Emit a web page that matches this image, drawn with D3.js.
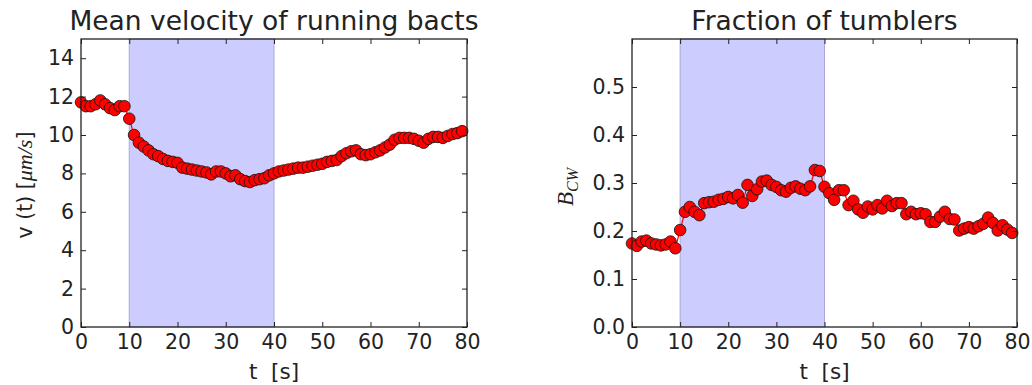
<!DOCTYPE html>
<html>
<head>
<meta charset="utf-8">
<script src="https://cdn.jsdelivr.net/npm/d3@7"></script>
<style>
  body { margin: 0; background: #fff; }
  text { font-family: "DejaVu Sans", sans-serif; fill: #222; }
  .axis text { font-size: 20.5px; }
  .axis line { stroke: #222; }
  .frame { fill: none; stroke: #222; stroke-width: 1.3; }
</style>
</head>
<body>
<div id="chart"></div>
<script>
// time axis, one sample per second
var times = d3.range(0, 80);

var velocity = [11.7, 11.5, 11.5, 11.6, 11.8, 11.6, 11.4, 11.3, 11.5, 11.5,
  10.85, 10.0, 9.6, 9.4, 9.2, 9.0, 8.9, 8.75, 8.65, 8.6,
  8.55, 8.3, 8.25, 8.2, 8.15, 8.1, 8.05, 7.95, 8.1, 8.1,
  8.0, 7.85, 7.9, 7.7, 7.6, 7.55, 7.65, 7.7, 7.75, 7.9,
  8.0, 8.1, 8.15, 8.2, 8.25, 8.3, 8.3, 8.35, 8.4, 8.45,
  8.5, 8.6, 8.65, 8.7, 8.9, 9.05, 9.15, 9.2, 9.0, 8.95,
  9.0, 9.1, 9.2, 9.35, 9.5, 9.75, 9.85, 9.85, 9.85, 9.8,
  9.7, 9.6, 9.8, 9.9, 9.9, 9.85, 9.95, 10.05, 10.1, 10.2];

var tumblers = [0.174, 0.169, 0.178, 0.18, 0.174, 0.172, 0.17, 0.172, 0.178, 0.164,
  0.202, 0.24, 0.25, 0.24, 0.233, 0.258, 0.26, 0.261, 0.265, 0.267,
  0.271, 0.268, 0.275, 0.259, 0.296, 0.273, 0.287, 0.303, 0.305, 0.296,
  0.292, 0.285, 0.282, 0.29, 0.293, 0.288, 0.285, 0.293, 0.327, 0.325,
  0.292, 0.279, 0.265, 0.285, 0.285, 0.254, 0.263, 0.245, 0.238, 0.251,
  0.245, 0.254, 0.247, 0.263, 0.252, 0.258, 0.258, 0.235, 0.24, 0.235,
  0.237, 0.235, 0.219, 0.219, 0.23, 0.24, 0.225, 0.224, 0.201, 0.205,
  0.208, 0.205, 0.21, 0.215, 0.228, 0.217, 0.201, 0.212, 0.203, 0.196];

var stimulus = [10, 40];
var xTicks = [0, 10, 20, 30, 40, 50, 60, 70, 80];
var vTicks = [0, 2, 4, 6, 8, 10, 12, 14];
var bTicks = [0, 0.1, 0.2, 0.3, 0.4, 0.5];

var W = 1032, H = 385;
var svg = d3.select("#chart").append("svg").attr("width", W).attr("height", H);

function panel(opts) {
  var x = d3.scaleLinear().domain([0, 80]).range([opts.left, opts.right]),
      y = d3.scaleLinear().domain(opts.ydomain).range([opts.bottom, opts.top]);

  var g = svg.append("g");

  // shaded stimulus window
  g.append("rect")
      .attr("x", x(stimulus[0]))
      .attr("y", opts.top)
      .attr("width", x(stimulus[1]) - x(stimulus[0]))
      .attr("height", opts.bottom - opts.top)
      .attr("fill", "#ccccff")
      .attr("stroke", "#a9a9d8")
      .attr("stroke-width", 1);

  var data = times.map(function(t, i) { return {t: t, v: opts.values[i]}; });

  g.append("path")
      .datum(data)
      .attr("fill", "none")
      .attr("stroke", "red")
      .attr("stroke-width", 1.2)
      .attr("d", d3.line().x(function(d) { return x(d.t); }).y(function(d) { return y(d.v); }));

  g.selectAll("circle")
      .data(data)
    .enter().append("circle")
      .attr("cx", function(d) { return x(d.t); })
      .attr("cy", function(d) { return y(d.v); })
      .attr("r", 5.8)
      .attr("fill", "red")
      .attr("stroke", "#111")
      .attr("stroke-width", 0.8);

  // inward ticks on all four sides
  g.append("g").attr("class", "axis")
      .attr("transform", "translate(0," + opts.bottom + ")")
      .call(d3.axisBottom(x).tickValues(xTicks).tickSize(-5).tickSizeOuter(0).tickPadding(7).tickFormat(d3.format("d")))
      .call(function(a) { a.select(".domain").remove(); });
  g.append("g").attr("class", "axis")
      .attr("transform", "translate(0," + opts.top + ")")
      .call(d3.axisTop(x).tickValues(xTicks).tickSize(-5).tickSizeOuter(0).tickFormat(""))
      .call(function(a) { a.select(".domain").remove(); });
  g.append("g").attr("class", "axis")
      .attr("transform", "translate(" + opts.left + ",0)")
      .call(d3.axisLeft(y).tickValues(opts.yticks).tickSize(-5).tickSizeOuter(0).tickPadding(7).tickFormat(opts.yfmt))
      .call(function(a) { a.select(".domain").remove(); });
  g.append("g").attr("class", "axis")
      .attr("transform", "translate(" + opts.right + ",0)")
      .call(d3.axisRight(y).tickValues(opts.yticks).tickSize(-5).tickSizeOuter(0).tickFormat(""))
      .call(function(a) { a.select(".domain").remove(); });

  g.append("rect").attr("class", "frame")
      .attr("x", opts.left).attr("y", opts.top)
      .attr("width", opts.right - opts.left).attr("height", opts.bottom - opts.top);

  g.append("text")
      .attr("x", (opts.left + opts.right) / 2).attr("y", 30)
      .attr("text-anchor", "middle")
      .style("font-size", "26.5px")
      .text(opts.title);

  g.append("text")
      .attr("x", (opts.left + opts.right) / 2).attr("y", 379)
      .attr("text-anchor", "middle")
      .style("font-size", "21.5px")
      .attr("xml:space", "preserve")
      .text("t  [s]");

  return g;
}

var left = panel({left: 81, right: 467, top: 39, bottom: 327, ydomain: [0, 15],
  yticks: vTicks, yfmt: d3.format("d"), values: velocity,
  title: "Mean velocity of running bacts"});

var right = panel({left: 632, right: 1017, top: 39, bottom: 327, ydomain: [0, 0.6],
  yticks: bTicks, yfmt: d3.format(".1f"), values: tumblers,
  title: "Fraction of tumblers"});

// y labels with mathtext-like parts
var yl = left.append("text")
    .attr("transform", "translate(32,185) rotate(-90)")
    .attr("text-anchor", "middle")
    .style("font-size", "20.5px");
yl.append("tspan").text("v (t) [");
yl.append("tspan").style("font-family", "'Liberation Serif', serif").style("font-style", "italic").style("font-size", "22px").text("μm/s");
yl.append("tspan").text("]");

var bl = right.append("text")
    .attr("transform", "translate(573,187) rotate(-90)")
    .attr("text-anchor", "middle")
    .style("font-family", "'Liberation Serif', serif")
    .style("font-style", "italic")
    .style("font-size", "23px");
bl.append("tspan").text("B");
bl.append("tspan").attr("dy", 5).style("font-size", "16px").text("CW");
</script>
</body>
</html>
